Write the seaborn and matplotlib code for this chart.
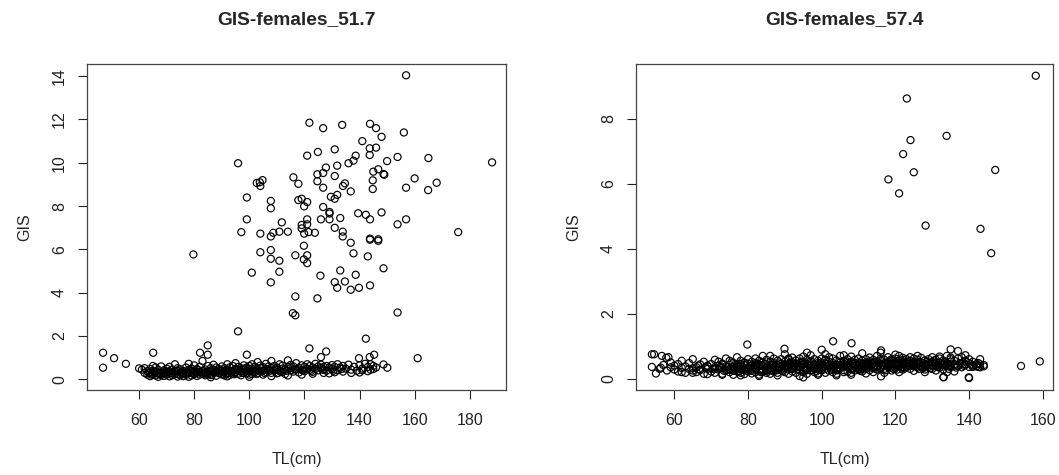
import matplotlib
matplotlib.use("Agg")
import matplotlib.pyplot as plt
import seaborn as sns
import pandas as pd

# ---- GIS-females_51.7 : mature fish (scattered, high GIS) ----
tl1_high = [156.9, 121.8, 126.8, 133.7, 143.8, 146.0, 148.0, 156.1, 141.0, 143.7,
            146.0, 143.7, 124.9, 131.0, 121.0, 153.8, 165.0, 188.1, 95.9, 138.6,
            137.8, 136.0, 150.0, 131.9, 127.8, 126.8, 124.7, 116.0, 117.8, 103.8,
            104.8, 102.7, 104.0, 145.0, 146.8, 148.7, 149.0, 160.0, 168.0, 164.9,
            156.9, 144.8, 144.8, 131.0, 134.0, 134.7, 126.8, 124.7, 136.8, 129.6,
            131.0, 131.9, 99.1, 117.8, 119.0, 121.0, 119.9, 107.8, 107.8, 126.8,
            129.1, 129.1, 139.5, 142.3, 143.8, 148.0, 156.9, 153.8, 175.8, 99.1,
            111.8, 121.0, 126.0, 129.1, 133.0, 119.0, 121.0, 119.0, 131.0, 133.9,
            97.1, 104.0, 108.7, 110.9, 114.0, 119.9, 121.5, 123.8, 107.8, 133.9,
            143.8, 146.8, 79.7, 104.0, 107.8, 107.8, 110.9, 110.9, 100.9, 107.8,
            116.7, 119.8, 121.0, 119.8, 121.0, 125.8, 133.0, 131.0, 131.9, 134.7,
            138.6, 136.8, 139.8, 143.8, 143.0, 143.8, 146.8, 137.8, 136.8, 148.7,
            116.7, 124.7, 115.8, 116.7, 153.8, 95.9, 142.3, 161.1]
gis1_high = [14.04, 11.85, 11.60, 11.75, 11.80, 11.60, 11.20, 11.40, 11.00, 10.67,
             10.70, 10.36, 10.50, 10.62, 10.33, 10.27, 10.22, 10.02, 9.98, 10.33,
             10.10, 9.98, 10.08, 9.87, 9.78, 9.53, 9.47, 9.33, 9.03, 9.10,
             9.20, 9.07, 8.93, 9.59, 9.70, 9.48, 9.45, 9.28, 9.08, 8.74,
             8.85, 9.19, 8.79, 9.39, 8.93, 9.05, 8.85, 9.15, 8.68, 8.43,
             8.34, 8.52, 8.40, 8.28, 8.34, 8.19, 7.99, 8.24, 7.90, 7.96,
             7.73, 7.66, 7.67, 7.60, 7.39, 7.71, 7.39, 7.16, 6.80, 7.39,
             7.25, 7.39, 7.39, 7.39, 7.45, 7.13, 7.16, 6.97, 7.00, 6.82,
             6.80, 6.73, 6.77, 6.82, 6.82, 6.73, 6.80, 6.77, 6.60, 6.60,
             6.50, 6.47, 5.77, 5.87, 5.97, 5.57, 5.48, 4.97, 4.93, 4.48,
             5.73, 6.17, 5.73, 5.54, 5.37, 4.79, 5.03, 4.49, 4.23, 4.52,
             4.83, 4.14, 4.23, 4.34, 5.68, 6.45, 6.40, 5.82, 6.31, 5.13,
             3.83, 3.74, 3.06, 2.96, 3.09, 2.22, 1.88, 0.98]

# ---- GIS-females_51.7 : immature band ----
tl1_low = [46.9, 46.9, 50.9, 55.2, 60.0, 65.1, 84.9, 82.1, 84.9, 121.8,
           127.9, 126.0, 99.1, 145.3, 143.7, 139.8, 150.1, 148.7,
           61, 62, 62, 63, 63, 64, 64, 64, 65, 65, 65, 66, 66, 66, 67, 67, 67, 68, 68, 68,
           69, 69, 69, 70, 70, 70, 71, 71, 71, 72, 72, 72, 73, 73, 73, 74, 74, 74, 75, 75,
           75, 76, 76, 76, 77, 77, 77, 78, 78, 78, 79, 79, 79, 80, 80, 80, 81, 81, 81, 82,
           82, 82, 83, 83, 83, 84, 84, 84, 85, 85, 85, 86, 86, 86, 87, 87, 87, 88, 88, 88,
           89, 89, 89, 90, 90, 90, 91, 91, 91, 92, 92, 92, 93, 93, 93, 94, 94, 94, 95, 95,
           95, 96, 96, 96, 97, 97, 97, 98, 98, 98, 99, 99, 99, 100, 100, 100, 101, 101, 101, 102,
           102, 102, 103, 103, 103, 104, 104, 104, 105, 105, 105, 106, 106, 106, 107, 107, 108, 108, 108, 109,
           109, 110, 110, 110, 111, 111, 112, 112, 112, 113, 113, 114, 114, 115, 115, 115, 116, 116, 117, 117,
           118, 118, 119, 119, 120, 120, 121, 121, 122, 122, 123, 123, 124, 124, 125, 125, 126, 126, 127, 127,
           128, 128, 129, 130, 130, 131, 132, 132, 133, 134, 135, 136, 137, 138, 139, 140, 141, 142, 143, 144,
           144, 145, 145, 146, 140, 141, 143, 137, 134, 131, 129, 127, 123, 119, 114, 108, 100, 92, 86, 78,
           63.5, 65.5, 67.5, 69.5, 71.5, 73.5, 75.5, 77.5, 79.5, 81.5, 83.5, 85.5, 87.5, 89.5, 91.5, 93.5, 95.5, 97.5, 99.5, 101.5,
           103.5, 105.5, 107.5, 109.5, 111.5, 64.5, 66.5, 70.5, 74.5, 78.5, 82.5, 86.5, 90.5, 94.5, 98.5, 102.5, 106.5, 110.5, 113.5, 116.5,
           119.5, 122.5, 126.5, 130.5, 133.5, 70, 76, 84, 92, 100]
gis1_low = [1.23, 0.54, 0.98, 0.72, 0.51, 1.23, 1.57, 1.23, 1.14, 1.43,
            1.29, 1.03, 1.14, 1.14, 1.03, 0.98, 0.54, 0.69,
            0.45, 0.30, 0.52, 0.22, 0.38, 0.15, 0.48, 0.31, 0.25, 0.62, 0.40, 0.18, 0.35, 0.55, 0.28, 0.44, 0.12, 0.33, 0.60, 0.20,
            0.27, 0.42, 0.16, 0.50, 0.34, 0.22, 0.38, 0.14, 0.58, 0.29, 0.45, 0.19, 0.36, 0.70, 0.24, 0.41, 0.13, 0.52, 0.31, 0.20,
            0.47, 0.26, 0.39, 0.15, 0.55, 0.33, 0.21, 0.44, 0.28, 0.72, 0.18, 0.37, 0.50, 0.24, 0.42, 0.65, 0.30, 0.16, 0.48, 0.35,
            0.22, 0.58, 0.40, 0.27, 0.85, 0.19, 0.46, 0.33, 0.62, 0.25, 0.38, 0.52, 0.20, 0.41, 0.30, 0.68, 0.45, 0.17, 0.36, 0.55,
            0.28, 0.48, 0.39, 0.23, 0.60, 0.42, 0.34, 0.18, 0.52, 0.45, 0.29, 0.70, 0.37, 0.21, 0.56, 0.40, 0.62, 0.27, 0.48, 0.33,
            0.75, 0.44, 0.26, 0.58, 0.38, 0.52, 0.19, 0.46, 0.65, 0.31, 0.55, 0.40, 0.28, 0.62, 0.47, 0.35, 0.50, 0.25, 0.70, 0.42,
            0.58, 0.33, 0.45, 0.80, 0.27, 0.52, 0.38, 0.64, 0.41, 0.22, 0.57, 0.48, 0.35, 0.72, 0.44, 0.60, 0.30, 0.53, 0.85, 0.40,
            0.62, 0.46, 0.28, 0.55, 0.38, 0.70, 0.50, 0.34, 0.63, 0.45, 0.25, 0.58, 0.88, 0.41, 0.67, 0.52, 0.36, 0.60, 0.47, 0.75,
            0.53, 0.32, 0.65, 0.44, 0.58, 0.38, 0.70, 0.50, 0.45, 0.62, 0.35, 0.55, 0.48, 0.72, 0.60, 0.42, 0.52, 0.68, 0.45, 0.58,
            0.62, 0.40, 0.55, 0.48, 0.66, 0.58, 0.42, 0.70, 0.55, 0.62, 0.50, 0.68, 0.45, 0.58, 0.40, 0.65, 0.50, 0.72, 0.58, 0.45,
            0.70, 0.62, 0.48, 0.55, 0.32, 0.42, 0.38, 0.30, 0.36, 0.33, 0.28, 0.30, 0.26, 0.22, 0.18, 0.15, 0.12, 0.14, 0.10, 0.12,
            0.30, 0.36, 0.24, 0.32, 0.28, 0.40, 0.26, 0.34, 0.30, 0.42, 0.28, 0.36, 0.32, 0.40, 0.26, 0.34, 0.44, 0.30, 0.38, 0.34,
            0.42, 0.30, 0.40, 0.46, 0.36, 0.22, 0.28, 0.36, 0.22, 0.40, 0.30, 0.22, 0.32, 0.24, 0.50, 0.26, 0.48, 0.30, 0.40, 0.46,
            0.42, 0.40, 0.46, 0.40, 0.48, 0.30, 0.32, 0.26, 0.28, 0.22]

# ---- GIS-females_57.4 : mature fish ----
tl2_high = [158.1, 123.1, 124.1, 133.9, 122.1, 125.0, 147.1, 118.1, 121.0, 128.2, 143.1, 146.0]
gis2_high = [9.32, 8.62, 7.34, 7.47, 6.91, 6.35, 6.42, 6.13, 5.70, 4.71, 4.61, 3.86]

# ---- GIS-females_57.4 : immature band ----
tl2_low = [154.1, 159.2, 103.1, 108.1, 79.8, 89.9, 100.0, 116.1, 135.0,
           53.9, 54.5, 56.6, 57.8, 58.4, 53.9, 56.3, 55.0, 139.9, 133.1, 116.1, 95.0, 142.5,
           56, 57, 58, 59, 59, 60, 60, 61, 61, 62, 62, 63, 63, 64, 64, 65, 65, 66, 66, 67, 67, 68, 68, 69, 69,
           70, 70, 71, 71, 71, 72, 72, 72, 73, 73, 73, 74, 74, 74, 75, 75, 75, 75, 76, 76, 76, 76, 77, 77, 77,
           77, 78, 78, 78, 78, 79, 79, 79, 79, 80, 80, 80, 80, 80, 81, 81, 81, 81, 82, 82, 82, 82, 82, 83, 83,
           83, 83, 84, 84, 84, 84, 85, 85, 85, 85, 85, 86, 86, 86, 86, 87, 87, 87, 87, 87, 88, 88, 88, 88, 89,
           89, 89, 89, 90, 90, 90, 90, 90, 91, 91, 91, 91, 92, 92, 92, 92, 92, 93, 93, 93, 93, 94, 94, 94, 94,
           95, 95, 95, 95, 95, 96, 96, 96, 96, 97, 97, 97, 97, 97, 98, 98, 98, 98, 99, 99, 99, 99, 99, 100, 100,
           100, 100, 100, 101, 101, 101, 101, 102, 102, 102, 102, 102, 103, 103, 103, 103, 104, 104, 104, 104, 104, 105, 105, 105, 105,
           106, 106, 106, 106, 106, 107, 107, 107, 107, 108, 108, 108, 108, 108, 109, 109, 109, 109, 110, 110, 110, 110, 110, 111, 111,
           111, 111, 112, 112, 112, 112, 113, 113, 113, 113, 113, 114, 114, 114, 114, 115, 115, 115, 115, 115, 116, 116, 116, 116, 117,
           117, 117, 117, 118, 118, 118, 118, 119, 119, 119, 119, 119, 120, 120, 120, 120, 121, 121, 121, 121, 122, 122, 122, 122, 122,
           123, 123, 123, 123, 124, 124, 124, 124, 125, 125, 125, 125, 126, 126, 126, 126, 127, 127, 127, 128, 128, 128, 128, 129, 129,
           129, 130, 130, 130, 130, 131, 131, 131, 132, 132, 132, 133, 133, 133, 134, 134, 134, 135, 135, 135, 136, 136, 137, 137, 138,
           138, 139, 139, 140, 140, 140, 141, 141, 142, 142, 143, 143, 144, 144, 139, 137, 136, 134, 133, 131, 128, 125, 121, 117, 112,
           108, 104, 99, 94, 88, 83, 78, 73, 69, 65, 62, 86, 91, 96, 101, 106, 111, 116, 120, 126, 132, 138, 143, 140, 135,
           65, 67, 69, 71, 73, 75, 77, 79, 81, 83, 85, 87, 89, 91, 93, 95, 97, 99, 101, 103, 105, 107, 109, 111, 113,
           115, 117, 119, 121, 123, 125, 127, 129, 131, 133, 135, 137, 139, 141, 76, 78, 80, 82, 84, 86, 88, 90, 92, 94, 96,
           98, 100, 102, 104, 106, 108, 110, 112, 114, 116, 118, 120, 122, 124, 126, 128, 130, 132, 134, 136, 74.5, 77.5, 80.5, 83.5, 86.5,
           89.5, 92.5, 95.5, 98.5, 101.5, 104.5, 107.5, 110.5, 113.5, 116.5, 119.5, 122.5, 125.5, 128.5, 131.5, 134.5, 137.5, 78.5, 82.5, 86.5, 90.5, 94.5, 98.5, 102.5, 106.5,
           110.5, 114.5, 118.5, 122.5, 126.5, 130.5, 134.5, 70.5, 72.5, 75.5, 79.5, 84.5, 87.5, 91.5, 96.5, 99.5, 103.5, 108.5, 112.5, 117.5, 121.5, 124.5, 129.5, 133.5, 138.5,
           66.5, 68.5, 73.5, 77, 81.5, 85, 88.5, 92, 97, 100.5, 104, 107, 111.5, 114, 118, 120.5, 124, 127.5, 130, 132.5, 136.5, 140.5, 142.5, 93.5, 109.5]
gis2_low = [0.39, 0.53, 1.15, 1.09, 1.05, 0.92, 0.89, 0.87, 0.90,
            0.75, 0.75, 0.70, 0.64, 0.66, 0.36, 0.34, 0.16, 0.04, 0.04, 0.07, 0.04, 0.36,
            0.30, 0.42, 0.25, 0.35, 0.50, 0.28, 0.40, 0.22, 0.45, 0.33, 0.55, 0.18, 0.38, 0.30, 0.48, 0.25, 0.60, 0.35, 0.20, 0.44, 0.28, 0.52, 0.15, 0.38, 0.30,
            0.45, 0.22, 0.35, 0.58, 0.18, 0.40, 0.28, 0.52, 0.33, 0.15, 0.46, 0.25, 0.38, 0.62, 0.30, 0.42, 0.20, 0.55, 0.35, 0.12, 0.48, 0.28, 0.40, 0.22, 0.66,
            0.32, 0.45, 0.18, 0.38, 0.55, 0.26, 0.42, 0.14, 0.50, 0.35, 0.22, 0.60, 0.30, 0.46, 0.40, 0.16, 0.52, 0.28, 0.36, 0.48, 0.20, 0.62, 0.31, 0.44, 0.25,
            0.55, 0.12, 0.38, 0.50, 0.22, 0.70, 0.33, 0.45, 0.18, 0.58, 0.28, 0.40, 0.25, 0.52, 0.15, 0.36, 0.48, 0.22, 0.62, 0.30, 0.42, 0.18, 0.55, 0.34, 0.46,
            0.26, 0.60, 0.36, 0.40, 0.20, 0.52, 0.32, 0.75, 0.45, 0.15, 0.58, 0.28, 0.38, 0.50, 0.22, 0.65, 0.30, 0.44, 0.18, 0.56, 0.34, 0.40, 0.26, 0.62, 0.48,
            0.36, 0.52, 0.20, 0.44, 0.68, 0.30, 0.46, 0.15, 0.58, 0.40, 0.25, 0.54, 0.34, 0.72, 0.44, 0.20, 0.60, 0.32, 0.48, 0.28, 0.55, 0.38, 0.16, 0.42, 0.62,
            0.25, 0.50, 0.35, 0.45, 0.18, 0.58, 0.30, 0.40, 0.66, 0.24, 0.52, 0.36, 0.48, 0.20, 0.62, 0.34, 0.44, 0.28, 0.56, 0.15, 0.40, 0.50, 0.32, 0.70, 0.42,
            0.26, 0.55, 0.38, 0.46, 0.20, 0.60, 0.34, 0.48, 0.22, 0.42, 0.68, 0.30, 0.52, 0.18, 0.45, 0.36, 0.58, 0.25, 0.50, 0.40, 0.28, 0.62, 0.44, 0.35, 0.55,
            0.22, 0.46, 0.40, 0.60, 0.30, 0.50, 0.44, 0.26, 0.65, 0.36, 0.54, 0.48, 0.32, 0.58, 0.20, 0.42, 0.70, 0.38, 0.52, 0.28, 0.46, 0.62, 0.34, 0.55, 0.40,
            0.58, 0.30, 0.48, 0.44, 0.66, 0.36, 0.52, 0.40, 0.25, 0.60, 0.46, 0.55, 0.50, 0.32, 0.62, 0.42, 0.48, 0.70, 0.38, 0.55, 0.44, 0.28, 0.58, 0.50, 0.64,
            0.46, 0.35, 0.60, 0.52, 0.42, 0.66, 0.30, 0.55, 0.48, 0.38, 0.62, 0.44, 0.52, 0.34, 0.58, 0.46, 0.40, 0.64, 0.50, 0.45, 0.28, 0.56, 0.38, 0.48, 0.60,
            0.36, 0.52, 0.42, 0.66, 0.30, 0.46, 0.58, 0.38, 0.50, 0.34, 0.62, 0.44, 0.56, 0.28, 0.48, 0.40, 0.70, 0.52, 0.36, 0.60, 0.44, 0.55, 0.40, 0.62, 0.48,
            0.35, 0.55, 0.42, 0.48, 0.36, 0.60, 0.40, 0.52, 0.45, 0.38, 0.44, 0.35, 0.42, 0.38, 0.72, 0.85, 0.22, 0.20, 0.05, 0.25, 0.20, 0.24, 0.20, 0.18, 0.16,
            0.12, 0.10, 0.12, 0.08, 0.10, 0.08, 0.10, 0.12, 0.14, 0.18, 0.20, 0.70, 0.62, 0.80, 0.75, 0.72, 0.78, 0.80, 0.74, 0.70, 0.68, 0.66, 0.60, 0.02, 0.65,
            0.32, 0.26, 0.40, 0.30, 0.44, 0.28, 0.36, 0.48, 0.24, 0.40, 0.34, 0.44, 0.30, 0.38, 0.46, 0.28, 0.40, 0.34, 0.46, 0.30, 0.42, 0.36, 0.48, 0.32, 0.40,
            0.36, 0.46, 0.34, 0.42, 0.38, 0.50, 0.36, 0.44, 0.40, 0.46, 0.42, 0.38, 0.44, 0.36, 0.24, 0.30, 0.28, 0.42, 0.28, 0.34, 0.26, 0.38, 0.30, 0.36, 0.26,
            0.34, 0.28, 0.42, 0.32, 0.38, 0.28, 0.34, 0.44, 0.36, 0.30, 0.40, 0.46, 0.36, 0.40, 0.44, 0.36, 0.40, 0.34, 0.44, 0.40, 0.36, 0.22, 0.38, 0.20, 0.42,
            0.24, 0.40, 0.30, 0.22, 0.46, 0.26, 0.40, 0.28, 0.48, 0.42, 0.30, 0.50, 0.40, 0.52, 0.36, 0.38, 0.48, 0.30, 0.46, 0.28, 0.34, 0.52, 0.42, 0.28, 0.50,
            0.24, 0.52, 0.56, 0.32, 0.30, 0.56, 0.30, 0.30, 0.36, 0.50, 0.32, 0.45, 0.38, 0.50, 0.42, 0.46, 0.38, 0.44, 0.50, 0.26, 0.34, 0.46, 0.32, 0.50, 0.40,
            0.40, 0.34, 0.24, 0.44, 0.36, 0.24, 0.50, 0.32, 0.48, 0.38, 0.26, 0.40, 0.42, 0.38, 0.48, 0.28, 0.54, 0.32, 0.48, 0.42, 0.34, 0.44, 0.48, 0.28, 0.32]

df1 = pd.DataFrame({"TL": tl1_high + tl1_low, "GIS": gis1_high + gis1_low})
df2 = pd.DataFrame({"TL": tl2_high + tl2_low, "GIS": gis2_high + gis2_low})

sns.set_style("ticks")
plt.rcParams["font.family"] = ["Liberation Sans", "DejaVu Sans"]

fig = plt.figure(figsize=(10.59, 4.75), dpi=100)
ax1 = fig.add_axes([0.0822, 0.1789, 0.3957, 0.6863])
ax2 = fig.add_axes([0.6006, 0.1789, 0.3938, 0.6863])

panels = [
    (ax1, df1, "GIS-females_51.7", (41.1, 193.2), (-0.49, 14.56), [60, 80, 100, 120, 140, 160, 180], [0, 2, 4, 6, 8, 10, 12, 14]),
    (ax2, df2, "GIS-females_57.4", (49.6, 162.8), (-0.35, 9.68), [60, 80, 100, 120, 140, 160], [0, 2, 4, 6, 8]),
]

for ax, df, title, xlim, ylim, xt, yt in panels:
    sns.scatterplot(data=df, x="TL", y="GIS", ax=ax, marker="o", s=26,
                    color="black", facecolor="none", edgecolor="black", linewidth=0.85)
    ax.set_xlim(*xlim)
    ax.set_ylim(*ylim)
    ax.set_xticks(xt)
    ax.set_yticks(yt)
    ax.set_yticklabels([str(v) for v in yt], rotation=90, va="center")
    ax.tick_params(axis="both", direction="out", length=6.5, width=0.8,
                   labelsize=11.5, color="#222222", labelcolor="#222222")
    ax.tick_params(axis="x", pad=10)
    ax.tick_params(axis="y", pad=8)
    for sp in ax.spines.values():
        sp.set_visible(True)
        sp.set_linewidth(0.9)
        sp.set_color("#444444")
    ax.set_title(title, fontsize=13.8, fontweight="bold", pad=29)
    ax.set_xlabel("TL(cm)", fontsize=11.5, labelpad=17)
    ax.set_ylabel("GIS", fontsize=11.5, labelpad=14)

fig.savefig("out.png", dpi=100)
